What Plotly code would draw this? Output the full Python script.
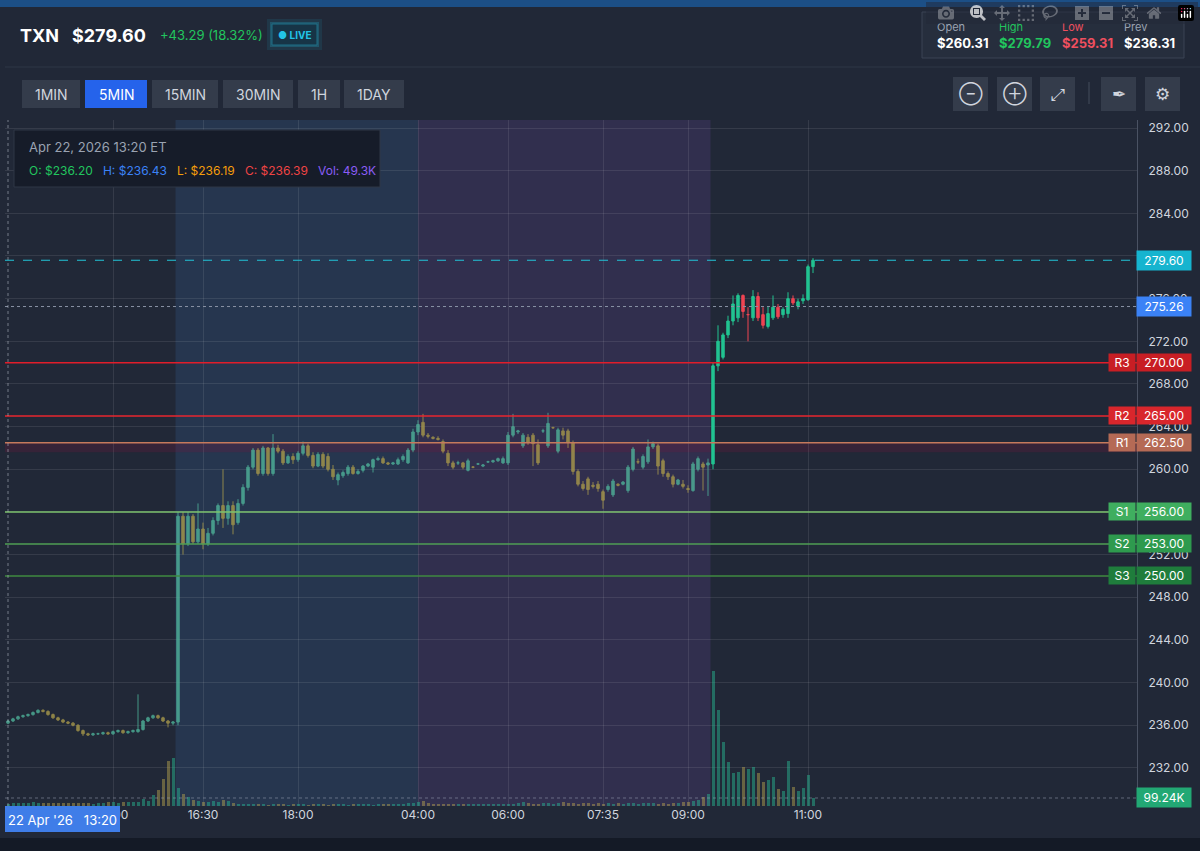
import plotly.graph_objects as go

# ---- data (5 min candles, TXN) ----
OPEN = [236.2, 236.4, 236.6, 236.8, 236.9, 237.0, 237.2, 237.4, 237.3, 237.0,
        236.7, 236.5, 236.3, 236.2, 236.0, 235.5, 235.2, 235.1, 235.2, 235.2,
        235.3, 235.2, 235.4, 235.5, 235.3, 235.4, 235.4, 235.6, 236.4, 236.7,
        236.9, 236.7, 236.4, 236.2,
        236.3, 255.6, 253.0, 255.6, 253.2, 254.4, 253.0, 254.0, 255.2, 256.6,
        255.4, 256.6, 255.0, 256.8, 258.3, 260.2, 261.8, 259.6, 262.0, 259.6,
        262.0, 261.7, 260.6, 261.2, 260.9, 261.5, 262.2, 261.3, 260.3, 261.4,
        261.2, 260.0, 259.0, 259.4, 259.6, 260.2, 259.6, 259.9, 260.3, 260.2,
        260.9, 261.0, 260.6, 260.5, 260.5, 260.9, 260.6, 261.8,
        263.5, 264.4, 263.2, 263.0, 262.9, 262.6, 261.5, 260.6, 260.6, 260.6,
        259.9, 260.2, 260.5, 260.3, 260.7, 260.7, 260.8, 260.6, 260.6, 263.2,
        263.5, 262.2, 263.0, 263.2, 262.3, 263.6, 262.2, 263.9, 261.7, 263.6,
        263.6, 262.5, 259.8, 258.6, 259.1, 258.5, 258.6, 257.9, 258.1, 257.6,
        258.6, 258.6, 258.0, 260.0, 260.7, 260.2, 260.7, 262.1, 262.2, 260.8,
        259.6, 259.3, 258.6, 258.6, 258.2, 258.0, 260.0, 260.5, 260.4,
        260.5, 269.7, 270.5, 272.6, 273.9, 274.2, 276.3, 274.5, 274.2, 276.2,
        274.5, 273.4, 274.2, 275.2, 274.5, 274.6, 276.0, 275.3, 275.8, 275.9,
        279.0]
CLOSE = [236.4, 236.6, 236.8, 236.9, 237.0, 237.2, 237.4, 237.3, 237.0, 236.7,
         236.5, 236.3, 236.2, 236.0, 235.5, 235.2, 235.1, 235.2, 235.2, 235.3,
         235.2, 235.4, 235.5, 235.3, 235.4, 235.5, 235.6, 236.4, 236.7, 236.9,
         236.7, 236.4, 236.2, 236.3,
         255.6, 253.0, 255.6, 253.2, 254.4, 253.0, 254.0, 255.2, 256.6, 255.4,
         256.6, 254.8, 256.8, 258.3, 260.2, 261.8, 259.6, 262.0, 259.6, 262.0,
         261.7, 260.6, 261.2, 260.9, 261.5, 262.2, 261.3, 260.3, 261.4, 260.3,
         260.0, 259.3, 259.5, 259.7, 260.2, 259.6, 259.8, 260.3, 260.5, 260.9,
         261.0, 260.6, 260.5, 260.6, 260.9, 261.2, 261.8, 263.5,
         264.2, 263.2, 263.1, 262.9, 262.8, 261.7, 260.6, 260.2, 260.6, 260.2,
         260.8, 260.2, 260.5, 260.4, 260.7, 260.8, 261.0, 261.0, 263.2, 264.0,
         263.6, 263.2, 262.5, 262.4, 260.6, 263.6, 264.3, 263.9, 263.7, 263.2,
         262.5, 259.8, 258.6, 258.2, 258.1, 258.4, 258.2, 257.1, 258.4, 258.9,
         258.5, 258.8, 260.2, 261.9, 260.7, 261.2, 262.1, 262.4, 260.3, 259.6,
         259.3, 258.6, 259.0, 258.4, 258.1, 260.5, 261.0, 260.2, 260.6,
         269.7, 272.0, 272.6, 273.9, 275.5, 276.3, 274.8, 274.5, 276.2, 274.2,
         273.5, 274.6, 275.2, 274.3, 275.0, 276.0, 275.6, 275.7, 276.0, 279.0,
         279.6]
HIGH = [236.5, 236.7, 236.9, 237.0, 237.1, 237.3, 237.5, 237.5, 237.4, 237.1,
        236.8, 236.6, 236.4, 236.3, 236.1, 235.6, 235.3, 235.3, 235.3, 235.4,
        235.4, 235.5, 235.6, 235.6, 235.5, 235.6, 238.9, 236.5, 236.8, 237.0,
        237.0, 236.8, 236.5, 236.4,
        256.0, 256.0, 256.0, 255.8, 256.8, 255.0, 254.5, 255.5, 256.8, 260.0,
        257.0, 257.0, 257.2, 258.6, 260.4, 262.0, 262.0, 262.2, 262.1, 263.3,
        262.3, 261.9, 261.4, 261.5, 261.7, 262.6, 262.4, 261.6, 261.6, 261.6,
        261.5, 260.4, 259.7, 259.9, 260.4, 260.4, 260.0, 260.4, 260.6, 261.0,
        261.2, 261.2, 260.7, 260.7, 261.1, 261.4, 262.0, 263.8,
        264.6, 265.2, 263.4, 263.1, 263.1, 262.8, 261.8, 260.8, 260.8, 260.7,
        261.0, 260.3, 260.6, 260.5, 260.8, 260.9, 261.1, 261.2, 263.5, 265.2,
        263.7, 263.4, 263.3, 263.4, 262.8, 263.8, 265.3, 264.0, 263.9, 263.9,
        263.8, 262.7, 260.0, 258.9, 259.3, 258.8, 258.9, 258.1, 258.6, 259.1,
        258.7, 258.9, 260.4, 262.1, 261.0, 261.4, 262.8, 262.6, 262.4, 261.0,
        259.8, 259.5, 259.1, 259.0, 258.5, 260.7, 261.2, 260.7, 261.0,
        270.0, 273.5, 272.8, 274.4, 276.3, 276.5, 276.4, 275.2, 276.8, 276.6,
        275.2, 275.3, 276.3, 275.5, 275.2, 276.6, 276.3, 276.0, 276.4, 279.2,
        279.8]
LOW = [236.1, 236.3, 236.5, 236.7, 236.8, 236.9, 237.1, 237.2, 236.9, 236.6,
       236.4, 236.2, 236.1, 235.9, 235.4, 235.0, 235.0, 235.0, 235.1, 235.1,
       235.1, 235.1, 235.3, 235.2, 235.2, 235.3, 235.3, 235.5, 236.3, 236.6,
       236.6, 236.3, 235.8, 236.0,
       236.0, 252.0, 252.8, 253.0, 253.0, 252.5, 252.8, 253.8, 254.8, 254.5,
       254.8, 253.9, 254.8, 256.6, 258.0, 260.0, 259.4, 259.4, 259.4, 259.4,
       261.5, 260.4, 260.5, 260.5, 260.7, 261.3, 261.1, 260.1, 260.2, 260.1,
       259.8, 259.0, 258.5, 259.2, 259.4, 259.5, 259.5, 259.7, 260.2, 259.7,
       260.8, 260.5, 260.4, 260.4, 260.4, 260.7, 260.5, 261.6,
       263.2, 263.0, 262.9, 262.8, 262.7, 261.5, 260.3, 260.0, 260.4, 260.0,
       259.8, 260.1, 260.4, 260.2, 260.6, 260.6, 260.7, 260.5, 260.4, 263.0,
       263.3, 262.0, 262.3, 260.3, 260.4, 263.4, 262.0, 263.8, 261.5, 262.8,
       262.0, 259.5, 258.4, 258.0, 257.6, 258.2, 257.9, 256.3, 257.9, 257.4,
       258.4, 258.5, 257.8, 259.8, 260.5, 260.0, 260.5, 261.9, 259.5, 259.3,
       259.0, 258.3, 258.5, 258.2, 257.8, 257.9, 259.8, 258.0, 257.5,
       260.0, 269.2, 270.3, 272.3, 273.5, 273.8, 274.2, 272.0, 273.9, 273.9,
       273.2, 273.2, 274.0, 274.1, 274.2, 274.2, 275.4, 275.0, 275.5, 275.8,
       278.4]
VOLUME_K = [30, 35, 40, 40, 35, 45, 40, 40, 35, 40,
            35, 40, 35, 35, 40, 35, 40, 30, 40, 35,
            45, 50, 40, 45, 55, 45, 50, 90, 60, 140,
            200, 340, 560, 600,
            220, 150, 110, 70, 60, 55, 50, 65, 50, 75, 60, 40,
            25, 30, 20, 25, 30, 20, 15, 20, 25, 20,
            15, 20, 20, 25, 15, 20, 25, 20, 15, 20,
            25, 20, 15, 20, 25, 30, 20, 15, 20, 25,
            20, 20, 25, 30, 35, 40,
            45, 60, 40, 30, 25, 20, 25, 30, 20, 25,
            30, 25, 20, 25, 20, 30, 25, 20, 25, 20,
            40, 50, 35, 30, 30, 40, 35, 30, 40, 45,
            35, 40, 30, 35, 40, 30, 35, 30, 40, 30,
            35, 30, 35, 40, 30, 35, 40, 35, 30, 40,
            30, 35, 40, 45, 50, 60, 80, 110, 150,
            1675, 1190, 795, 545, 410, 420, 485, 460, 485, 410,
            300, 320, 360, 210, 185, 560, 235, 185, 225, 385,
            99.24]

TICK_POS = [21, 39, 58, 82, 100, 119, 136, 160]
TICK_TXT = ["15:00", "16:30", "18:00", "04:00", "06:00", "07:35", "09:00", "11:00"]
LEVEL_NAMES = ["R3", "R2", "R1", "S1", "S2", "S3"]
LEVEL_VALUES = [270.00, 265.00, 262.50, 256.00, 253.00, 250.00]
LEVEL_COLORS = ["#e11d2a", "#e8262f", "#c57a5c", "#7cc26e", "#4f9e55", "#3f8a40"]
LEVEL_BOX = ["#c81e24", "#d8262c", "#b56a55", "#3fae5f", "#2e9a4e", "#1f7d3c"]
LAST_PRICE = 279.60
PREV_LINE = 275.26
SESSION_BREAKS = [33.5, 82, 140.5]

n = len(CLOSE)
x = list(range(n))
split = 141

BG = "#212837"
fig = go.Figure()

# volume bars on a hidden overlay axis
vcol = ["rgba(40,190,150,0.45)" if CLOSE[i] >= OPEN[i] else "rgba(190,170,80,0.45)" for i in x]
fig.add_trace(go.Bar(x=x, y=VOLUME_K, marker_color=vcol, marker_line_width=0,
                     yaxis="y2", width=0.6, hoverinfo="skip"))

fig.add_trace(go.Candlestick(
    x=x[:split], open=OPEN[:split], high=HIGH[:split], low=LOW[:split], close=CLOSE[:split],
    increasing=dict(line=dict(color="#4fb39a", width=1), fillcolor="#4fb39a"),
    decreasing=dict(line=dict(color="#a99a4c", width=1), fillcolor="#a99a4c"),
    opacity=0.8, whiskerwidth=0))
fig.add_trace(go.Candlestick(
    x=x[split:], open=OPEN[split:], high=HIGH[split:], low=LOW[split:], close=CLOSE[split:],
    increasing=dict(line=dict(color="#22c391", width=1), fillcolor="#22c391"),
    decreasing=dict(line=dict(color="#ef4452", width=1), fillcolor="#ef4452"),
    whiskerwidth=0))

# plot area in pixels: x 5..1137, y 120..806
def px(v):
    return (v - 5) / 1132


def py(v):
    return (806 - v) / 686


shapes = []
ann = []


def label(xp, yp, text, size=12, color="white", anchor="center", xref="paper", yref="paper", **kw):
    ann.append(dict(xref=xref, yref=yref, x=xp, y=yp, text=text, showarrow=False,
                    xanchor=anchor, yanchor="middle", font=dict(color=color, size=size), **kw))


# session shading
shapes.append(dict(type="rect", xref="x", yref="paper", x0=SESSION_BREAKS[0], x1=SESSION_BREAKS[1],
                   y0=0, y1=1, fillcolor="rgba(60,105,170,0.22)", line_width=0, layer="below"))
shapes.append(dict(type="rect", xref="x", yref="paper", x0=SESSION_BREAKS[1], x1=SESSION_BREAKS[2],
                   y0=0, y1=1, fillcolor="rgba(110,75,165,0.22)", line_width=0, layer="below"))

# support / resistance
for name, val, col, box in zip(LEVEL_NAMES, LEVEL_VALUES, LEVEL_COLORS, LEVEL_BOX):
    shapes.append(dict(type="line", xref="paper", yref="y", x0=0, x1=1, y0=val, y1=val,
                       line=dict(color=col, width=1.5)))
    label(px(1122), val, name, yref="y", bgcolor=box, width=24, height=15)
    label(px(1164), val, f"{val:.2f}", yref="y", bgcolor=box, width=52, height=15)
shapes.append(dict(type="rect", xref="paper", yref="y", x0=0, x1=1, y0=261.6, y1=262.5,
                   fillcolor="rgba(120,20,60,0.25)", line_width=0, layer="below"))

# last price and prev
shapes.append(dict(type="line", xref="paper", yref="y", x0=0, x1=1, y0=LAST_PRICE, y1=LAST_PRICE,
                   line=dict(color="#22c3d8", width=1, dash="dash")))
shapes.append(dict(type="line", xref="paper", yref="y", x0=0, x1=1, y0=PREV_LINE, y1=PREV_LINE,
                   line=dict(color="#8a93a6", width=1, dash="dot")))
label(px(1164), LAST_PRICE, f"{LAST_PRICE:.2f}", yref="y", bgcolor="#16b4cf", width=52, height=17)
label(px(1164), PREV_LINE, f"{PREV_LINE:.2f}", yref="y", bgcolor="#3b82f6", width=52, height=17)
# volume marker
shapes.append(dict(type="line", xref="paper", yref="y2", x0=0, x1=1, y0=VOLUME_K[-1], y1=VOLUME_K[-1],
                   line=dict(color="rgba(160,170,190,0.5)", width=1, dash="dot")))
label(px(1164), VOLUME_K[-1], f"{VOLUME_K[-1]:.2f}K", yref="y2", bgcolor="#22a874", width=52, height=17)

# crosshair
shapes.append(dict(type="line", xref="x", yref="paper", x0=0, x1=0, y0=0, y1=1,
                   line=dict(color="rgba(200,205,215,0.5)", width=1, dash="dot")))
shapes.append(dict(type="rect", xref="paper", yref="paper", x0=px(5), x1=px(120), y0=py(832), y1=py(806),
                   fillcolor="#3f7de8", line_width=0))
label(px(62), py(820), "22 Apr '26   13:20", size=13)

# tooltip
shapes.append(dict(type="rect", xref="paper", yref="paper", x0=px(14), x1=px(380), y0=py(187), y1=py(130),
                   fillcolor="#161c29", line=dict(color="#2e3646", width=1)))
label(px(27), py(147), "Apr 22, 2026 13:20 ET", size=13, color="#9aa3b2", anchor="left")
label(px(27), py(170),
      "<span style='color:#22c55e'>O: $236.20</span>   "
      "<span style='color:#3b82f6'>H: $236.43</span>   "
      "<span style='color:#f59e0b'>L: $236.19</span>   "
      "<span style='color:#ef4444'>C: $236.39</span>   "
      "<span style='color:#8b5cf6'>Vol: 49.3K</span>", size=12, anchor="left")

# header
shapes.append(dict(type="rect", xref="paper", yref="paper", x0=px(0), x1=px(1200), y0=py(7), y1=py(0),
                   fillcolor="#1c4f86", line_width=0))
shapes.append(dict(type="line", xref="paper", yref="paper", x0=px(5), x1=px(1200), y0=py(67), y1=py(67),
                   line=dict(color="#2e3647", width=1)))
label(px(18), py(35), "<b>TXN</b>", size=18, anchor="left")
label(px(70), py(35), "<b>$279.60</b>", size=18, anchor="left")
label(px(158), py(35), "+43.29 (18.32%)", size=13, color="#22c55e", anchor="left")
for grow, a in [(5, 0.10), (2, 0.22)]:
    shapes.append(dict(type="rect", xref="paper", yref="paper", x0=px(272 - grow), x1=px(317 + grow),
                       y0=py(45 + grow), y1=py(24 - grow), fillcolor=f"rgba(34,200,230,{a})", line_width=0))
shapes.append(dict(type="rect", xref="paper", yref="paper", x0=px(272), x1=px(317), y0=py(45), y1=py(24),
                   fillcolor="#173446", line=dict(color="#1f6f86", width=1)))
label(px(294.5), py(35), "<b>● LIVE</b>", size=10, color="#22c3e6")

# OHLC summary box
shapes.append(dict(type="rect", xref="paper", yref="paper", x0=px(922), x1=px(1184), y0=py(58), y1=py(12),
                   fillcolor="#262e3d", line=dict(color="#3a4354", width=1)))
for lx, lab, val, lc, vc in [(935, "Open", "$260.31", "#9aa3b2", "white"),
                             (997, "High", "$279.79", "#22c55e", "#22c55e"),
                             (1060, "Low", "$259.31", "#ef4f5f", "#ef4f5f"),
                             (1122, "Prev", "$236.31", "#9aa3b2", "white")]:
    label(px(lx), py(27), lab, size=11, color=lc, anchor="left")
    label(px(lx), py(43), f"<b>{val}</b>", size=13, color=vc, anchor="left")

# interval buttons
for x0, x1, lab in [(22, 80, "1MIN"), (85, 147, "5MIN"), (152, 218, "15MIN"), (223, 293, "30MIN"),
                    (298, 340, "1H"), (344, 404, "1DAY")]:
    active = lab == "5MIN"
    shapes.append(dict(type="rect", xref="paper", yref="paper", x0=px(x0), x1=px(x1), y0=py(108), y1=py(80),
                       fillcolor="#2563eb" if active else "#343c4b", line_width=0))
    label(px((x0 + x1) / 2), py(94), lab, size=14, color="white" if active else "#d0d5de")

# tool icons
for x0, glyph in [(953, "⊖"), (997, "⊕"), (1040, "⤢"), (1101, "✒"), (1145, "⚙")]:
    shapes.append(dict(type="rect", xref="paper", yref="paper", x0=px(x0), x1=px(x0 + 35), y0=py(111), y1=py(77),
                       fillcolor="#343c4b", line_width=0))
    label(px(x0 + 17.5), py(94), glyph, size=17, color="#d0d5de")
shapes.append(dict(type="line", xref="paper", yref="paper", x0=px(1089), x1=px(1089), y0=py(104), y1=py(82),
                   line=dict(color="#444c5c", width=1)))
# panel bottom
shapes.append(dict(type="rect", xref="paper", yref="paper", x0=px(0), x1=px(1200), y0=py(851), y1=py(838),
                   fillcolor="#141a26", line_width=0))

fig.update_layout(
    width=1200, height=851, autosize=False,
    margin=dict(l=5, r=63, t=120, b=45),
    paper_bgcolor=BG, plot_bgcolor=BG,
    font=dict(family="Inter, Roboto, sans-serif", color="#c8ccd6"),
    showlegend=False, bargap=0,
    shapes=shapes, annotations=ann,
    xaxis=dict(range=[-0.6, 225.8], tickmode="array", tickvals=TICK_POS, ticktext=TICK_TXT,
               showgrid=True, gridcolor="rgba(255,255,255,0.09)", zeroline=False,
               rangeslider=dict(visible=False), tickfont=dict(size=12, color="#d0d5de"),
               ticks="", showline=False),
    yaxis=dict(range=[228.43, 292.75], side="right", dtick=4, tick0=232, tickformat=".2f",
               showgrid=True, gridcolor="rgba(255,255,255,0.09)", zeroline=False,
               tickfont=dict(size=12, color="#d0d5de"), showline=True, linecolor="#4a5263",
               ticks="", ticklabelstandoff=8),
    yaxis2=dict(overlaying="y", range=[0, 8500], visible=False),
)

fig.write_html("out.html", post_script="document.body.style.margin='0';")
